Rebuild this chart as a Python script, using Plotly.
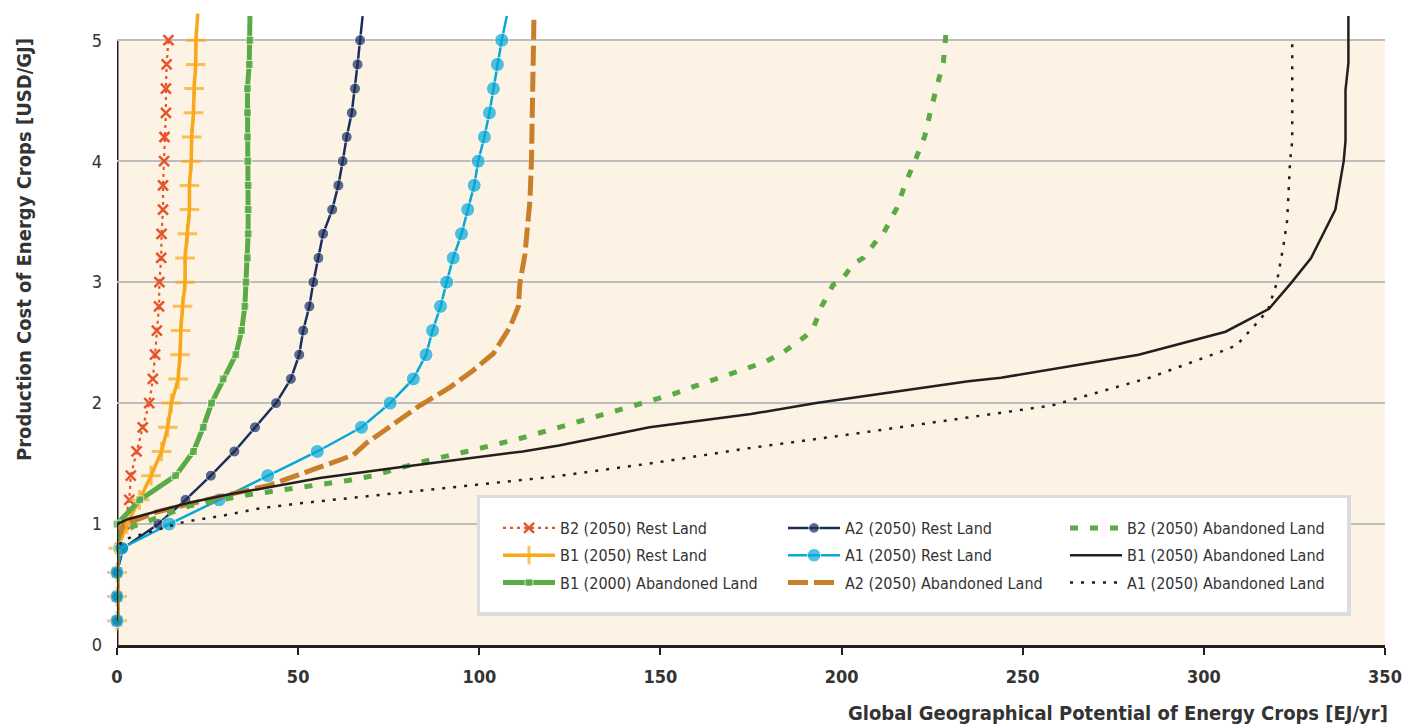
import plotly.graph_objects as go

# ---------------- data ----------------
levels = [0.2, 0.4, 0.6, 0.8, 1.0, 1.2, 1.4, 1.6, 1.8, 2.0, 2.2, 2.4, 2.6,
          2.8, 3.0, 3.2, 3.4, 3.6, 3.8, 4.0, 4.2, 4.4, 4.6, 4.8, 5.0]

b2_rest_x = [0, 0, 0, 0.8, 2.0, 3.4, 3.8, 5.4, 7.1, 8.9, 9.9, 10.5, 11.0,
             11.6, 11.7, 12.2, 12.3, 12.7, 12.7, 13.0, 13.1, 13.5, 13.5, 13.7, 14.2]
b2_rest_y = levels

b1_rest_x = [0, 0, 0, 0.3, 2.7, 6.2, 9.4, 12.3, 14.0, 15.0, 16.9, 17.4, 17.6,
             18.1, 18.8, 18.8, 19.4, 20.0, 20.0, 20.5, 20.6, 21.1, 21.3, 21.7, 21.8, 22.3]
b1_rest_y = levels + [5.22]

b1_2000_x = [0, 0, 0, 0, 0, 6.3, 16.2, 21.1, 23.8, 26.1, 29.3, 32.8, 34.4,
             35.3, 35.6, 36.0, 36.2, 36.2, 36.2, 36.1, 36.0, 36.0, 36.0, 36.5, 36.7, 36.7]
b1_2000_y = levels + [5.2]

a2_rest_x = [0, 0, 0, 1.7, 11.4, 18.9, 25.9, 32.4, 38.1, 43.9, 48.0, 50.3, 51.4,
             53.1, 54.2, 55.6, 56.9, 59.4, 61.1, 62.3, 63.4, 64.8, 65.7, 66.4, 67.1, 67.8]
a2_rest_y = levels + [5.2]

a1_rest_x = [0, 0, 0, 1.3, 14.4, 28.2, 41.6, 55.3, 67.5, 75.4, 81.8, 85.3, 87.1,
             89.3, 91.0, 92.8, 95.1, 96.8, 98.6, 99.7, 101.4, 102.8, 103.9, 105.0, 106.2, 107.6]
a1_rest_y = levels + [5.2]

a2_aband_x = [0, 0, 1.7, 10.9, 27.5, 42.0, 55.0, 65.2, 68.9, 76.3, 83.6, 91.9, 98.3,
              103.9, 108.5, 110.8, 111.2, 112.6, 113.1, 114.0, 114.4, 114.9, 115.1]
a2_aband_y = [0.2, 0.85, 0.99, 1.10, 1.22, 1.32, 1.46, 1.57, 1.67, 1.83, 1.98, 2.13, 2.27,
              2.41, 2.63, 2.80, 2.99, 3.23, 3.40, 3.68, 4.00, 5.00, 5.20]

b2_aband_x = [0, 0, 4.5, 20.0, 35.8, 50.0, 63.8, 70.8, 83.6, 96.5, 110.3, 122.0, 136.1,
              146.2, 153.1, 159.5, 166.0, 172.4, 178.9, 183.9, 189.9, 192.2, 194.5, 197.7,
              199.6, 203.2, 206.0, 210.1, 211.5, 215.2, 217.8, 220.5, 223.0, 224.6, 226.2,
              228.1, 228.8]
b2_aband_y = [0.2, 0.9, 0.98, 1.15, 1.24, 1.30, 1.36, 1.40, 1.51, 1.60, 1.70, 1.80, 1.92,
              2.01, 2.07, 2.14, 2.21, 2.28, 2.34, 2.42, 2.55, 2.62, 2.80, 2.98,
              3.00, 3.15, 3.20, 3.36, 3.40, 3.61, 3.83, 4.02, 4.21, 4.42, 4.61,
              4.82, 5.05]

b1_aband_x = [0, 0, 3.0, 19.0, 30.0, 56.0, 78.0, 112.0, 122.0, 147.0, 175.0, 193.0,
              235.0, 244.0, 282.0, 306.0, 318.0, 324.0, 329.6, 336.3, 338.6, 339.1,
              339.1, 339.9, 339.9]
b1_aband_y = [0.2, 1.0, 1.04, 1.17, 1.24, 1.38, 1.47, 1.60, 1.65, 1.80, 1.91, 2.00,
              2.18, 2.21, 2.40, 2.59, 2.78, 2.99, 3.20, 3.60, 4.00, 4.17,
              4.59, 4.81, 5.20]

a1_aband_x = [0, 0, 1.7, 18.8, 29.3, 39.5, 50.0, 68.9, 96.5, 120.0, 147.0, 175.0,
              202.0, 230.0, 258.0, 285.0, 299.0, 306.0, 309.1, 315.5, 317.8, 320.1,
              321.9, 323.0, 323.8, 324.4, 324.4]
a1_aband_y = [0.2, 0.8, 0.87, 1.02, 1.07, 1.13, 1.17, 1.23, 1.32, 1.39, 1.50, 1.63,
              1.74, 1.86, 1.98, 2.21, 2.36, 2.44, 2.48, 2.69, 2.78, 2.99,
              3.29, 3.51, 4.00, 4.17, 5.03]

x_ticks = [0, 50, 100, 150, 200, 250, 300, 350]
y_ticks = [0, 1, 2, 3, 4, 5]

x_title = "Global Geographical Potential of Energy Crops [EJ/yr]"
y_title = "Production Cost of Energy Crops [USD/GJ]"

# ---------------- style ----------------
FONT = "DejaVu Sans Condensed, Liberation Sans Narrow, Arial Narrow, sans-serif"
TXT = "#333333"
RED = "#e8542a"
ORANGE = "#f9a81c"
GREEN = "#5aab46"
NAVY = "#1a2f5e"
CYAN = "#05a8d6"
BROWN = "#c97f2a"
BLACK = "#231f20"
CREAM = "#fdf3e4"

W, H = 1402, 725
L, R, T, B = 117, 17, 10, 80
PW, PH = W - L - R, H - T - B


def px(xp):
    return (xp - L) / PW


def py(yp):
    return (H - B - yp) / PH


def sizes(n_markers, n_total, s):
    return [s] * n_markers + [0] * (n_total - n_markers)


fig = go.Figure()

# column 1
fig.add_trace(go.Scatter(
    x=b2_rest_x, y=b2_rest_y, name="B2 (2050) Rest Land", mode="lines+markers",
    line=dict(color=RED, width=2.2, dash="3px,4px"),
    marker=dict(symbol="x-thin", size=10, line=dict(color=RED, width=2.5)),
    legend="legend", legendgroup="c1a", cliponaxis=False))
fig.add_trace(go.Scatter(
    x=b1_rest_x, y=b1_rest_y, name="B1 (2050) Rest Land", mode="lines+markers",
    line=dict(color=ORANGE, width=3.5),
    marker=dict(symbol="cross-thin", size=sizes(25, 26, 14), line=dict(color=ORANGE, width=3)),
    legend="legend", legendgroup="c1b", cliponaxis=False))
fig.add_trace(go.Scatter(
    x=b1_2000_x, y=b1_2000_y, name="B1 (2000) Abandoned Land", mode="lines+markers",
    line=dict(color=GREEN, width=5),
    marker=dict(symbol="square", size=sizes(25, 26, 8), color=GREEN),
    legend="legend", legendgroup="c1c", cliponaxis=False))

# column 2
fig.add_trace(go.Scatter(
    x=a2_rest_x, y=a2_rest_y, name="A2 (2050) Rest Land", mode="lines+markers",
    line=dict(color=NAVY, width=2.5),
    marker=dict(symbol="circle", size=sizes(25, 26, 11), color=NAVY),
    legend="legend2", legendgroup="c2a", cliponaxis=False))
fig.add_trace(go.Scatter(
    x=a1_rest_x, y=a1_rest_y, name="A1 (2050) Rest Land", mode="lines+markers",
    line=dict(color=CYAN, width=2.5),
    marker=dict(symbol="circle", size=sizes(25, 26, 14), color=CYAN),
    legend="legend2", legendgroup="c2b", cliponaxis=False))
fig.add_trace(go.Scatter(
    x=a2_aband_x, y=a2_aband_y, name="A2 (2050) Abandoned Land", mode="lines",
    line=dict(color=BROWN, width=5, dash="20px,6px"),
    legend="legend2", legendgroup="c2c", cliponaxis=False))

# column 3
fig.add_trace(go.Scatter(
    x=b2_aband_x, y=b2_aband_y, name="B2 (2050) Abandoned Land", mode="lines",
    line=dict(color=GREEN, width=5, dash="8px,12px"),
    legend="legend3", legendgroup="c3a", cliponaxis=False))
fig.add_trace(go.Scatter(
    x=b1_aband_x, y=b1_aband_y, name="B1 (2050) Abandoned Land", mode="lines",
    line=dict(color=BLACK, width=2.5),
    legend="legend3", legendgroup="c3b", cliponaxis=False))
fig.add_trace(go.Scatter(
    x=a1_aband_x, y=a1_aband_y, name="A1 (2050) Abandoned Land", mode="lines",
    line=dict(color=BLACK, width=2.5, dash="3px,8px"),
    legend="legend3", legendgroup="c3c", cliponaxis=False))

shapes = [
    dict(type="rect", xref="x", yref="y", x0=0, x1=350, y0=0, y1=5,
         fillcolor=CREAM, line=dict(width=0), layer="below"),
    dict(type="line", xref="x", yref="y", x0=0, x1=0, y0=0, y1=5,
         line=dict(color=BLACK, width=3), layer="below"),
    # legend box shadow + box
    dict(type="rect", xref="paper", yref="paper",
         x0=px(477), x1=px(1351), y0=py(616), y1=py(495),
         fillcolor="#dcdcdc", line=dict(width=0), layer="above"),
    dict(type="rect", xref="paper", yref="paper",
         x0=px(480), x1=px(1347), y0=py(612), y1=py(498),
         fillcolor="white", line=dict(width=0), layer="above"),
]

legend_common = dict(
    orientation="v", yanchor="top", xanchor="left",
    bgcolor="rgba(0,0,0,0)", borderwidth=0,
    font=dict(family=FONT, size=16, color=TXT),
    itemwidth=52, tracegroupgap=3.5, itemclick=False, itemdoubleclick=False,
)
ly = py(511)

fig.update_layout(
    width=W, height=H,
    margin=dict(l=L, r=R, t=T, b=B, autoexpand=False),
    paper_bgcolor="white", plot_bgcolor="white",
    font=dict(family=FONT, size=17, color=TXT),
    showlegend=True,
    legend=dict(x=px(498), y=ly, **legend_common),
    legend2=dict(x=px(783), y=ly, **legend_common),
    legend3=dict(x=px(1065), y=ly, **legend_common),
    shapes=shapes,
    xaxis=dict(
        range=[0, 350], tickvals=x_ticks, ticktext=[str(v) for v in x_ticks],
        showgrid=False, zeroline=False, automargin=False,
        showline=True, linecolor=BLACK, linewidth=3,
        ticks="outside", ticklen=7, tickwidth=2, tickcolor=BLACK,
        tickfont=dict(family=FONT, size=18, color=TXT, weight="bold"),
        ticklabelstandoff=6,
    ),
    yaxis=dict(
        range=[0, 5.25], tickvals=y_ticks, ticktext=[str(v) for v in y_ticks],
        showgrid=True, gridcolor="#bdbdbd", gridwidth=2, automargin=False,
        zeroline=False, showline=False, ticks="",
        tickfont=dict(family=FONT, size=18, color=TXT),
        ticklabelstandoff=14,
    ),
    annotations=[
        dict(text=x_title, xref="paper", yref="paper", x=px(1390),
             y=py(713), xanchor="right", yanchor="middle", showarrow=False,
             font=dict(family=FONT, size=20, color=TXT, weight="bold")),
        dict(text=y_title, xref="paper", yref="paper", x=px(24),
             y=py(250), xanchor="center", yanchor="middle", showarrow=False,
             textangle=-90,
             font=dict(family=FONT, size=20, color=TXT, weight="bold")),
    ],
)

fig.write_html("out.html", config={"displayModeBar": False},
               post_script="document.body.style.margin='0';document.body.style.overflow='hidden';")
